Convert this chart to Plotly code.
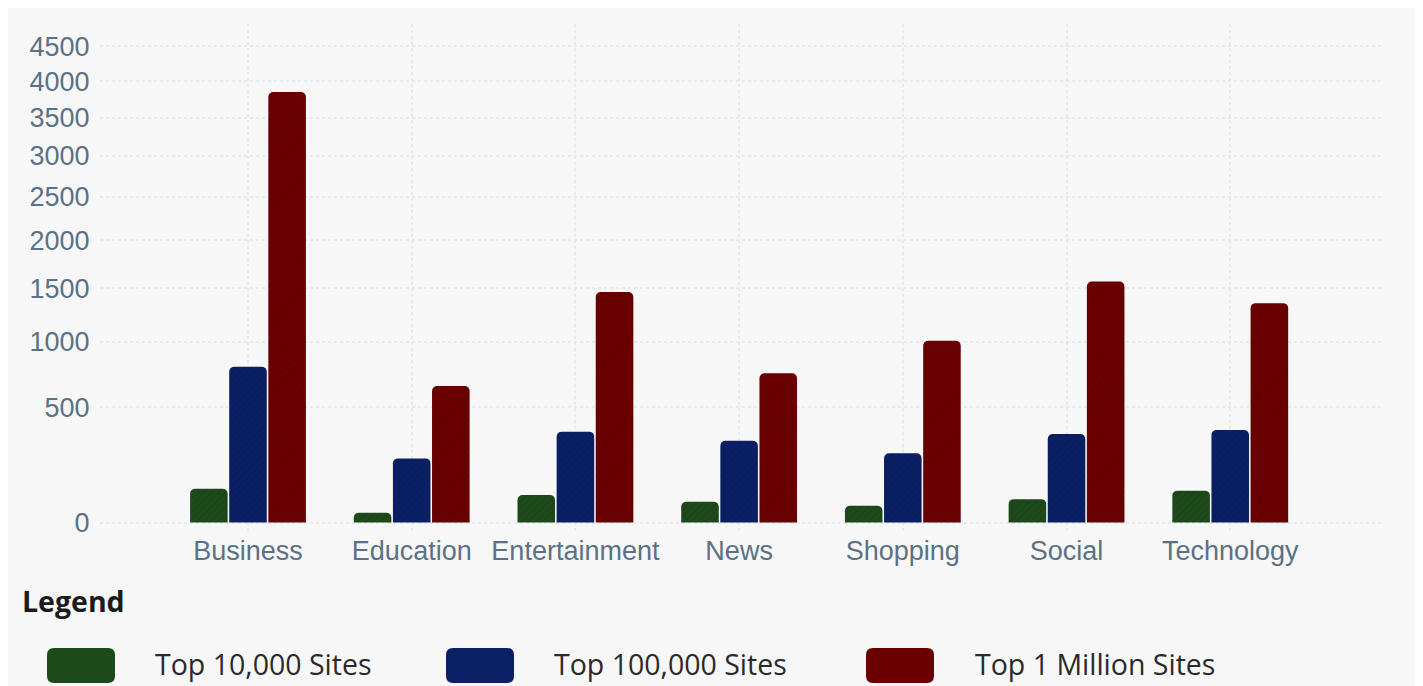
import plotly.graph_objects as go

categories = ["Business", "Education", "Entertainment", "News", "Shopping", "Social", "Technology"]
top_10k = [74, 11, 54, 35, 25, 42, 68]
top_100k = [796, 201, 345, 293, 226, 331, 355]
top_1m = [3849, 649, 1460, 744, 1011, 1565, 1353]
series_names = ["Top 10,000 Sites", "Top 100,000 Sites", "Top 1 Million Sites"]
series_colors = ["#1e4a1b", "#0b2064", "#6b0000"]
y_ticks = [0, 500, 1000, 1500, 2000, 2500, 3000, 3500, 4000, 4500]

# the reference uses a power-type (compressed) value scale
POW = 0.645


def tr(v):
    return v ** POW


OFF = 8  # page body margin
W, H = 1415, 678
L, R, T, B = 92, 41, 16, 154
PW, PH = W - L - R, H - T - B


def px(xp):
    return (xp - OFF - L) / PW


def py(yp):
    return (H - B - (yp - OFF)) / PH


fig = go.Figure()
for name, vals, col in zip(series_names, [top_10k, top_100k, top_1m], series_colors):
    fig.add_trace(go.Bar(
        x=categories, y=[tr(v) for v in vals], name=name,
        customdata=vals, hovertemplate="%{x}: %{customdata}<extra>" + name + "</extra>",
        marker=dict(color=col, line=dict(width=0),
                    pattern=dict(shape="/", size=5, solidity=0.25,
                                 fgcolor="rgba(0,0,0,0.22)", fillmode="overlay")),
    ))

shapes = [dict(type="rect", xref="paper", yref="paper", layer="below",
               x0=px(7), x1=px(1416), y0=py(700), y1=py(7),
               fillcolor="#f7f7f7", line=dict(width=0))]


def rounded(x0, y0, x1, y1, r):
    rx, ry = r / PW, r / PH
    a0, a1 = px(x0), px(x1)
    b0, b1 = py(y1), py(y0)  # bottom, top in paper
    return (f"M {a0+rx},{b0} L {a1-rx},{b0} Q {a1},{b0} {a1},{b0+ry} "
            f"L {a1},{b1-ry} Q {a1},{b1} {a1-rx},{b1} L {a0+rx},{b1} "
            f"Q {a0},{b1} {a0},{b1-ry} L {a0},{b0+ry} Q {a0},{b0} {a0+rx},{b0} Z")


swatch_x = [47, 446, 866]
text_x = [153, 552, 973]
annotations = [dict(xref="paper", yref="paper", x=px(20), y=py(601), xanchor="left", yanchor="middle",
                    text="<b>Legend</b>", showarrow=False,
                    font=dict(family="Open Sans", size=28.5, color="#1b1b1b"))]
for sx, tx, name, col in zip(swatch_x, text_x, series_names, series_colors):
    shapes.append(dict(type="path", xref="paper", yref="paper", path=rounded(sx, 648, sx + 68, 683, 7),
                       fillcolor=col, line=dict(width=0)))
    annotations.append(dict(xref="paper", yref="paper", x=px(tx), y=py(664), xanchor="left", yanchor="middle",
                            text=name, showarrow=False,
                            font=dict(family="Open Sans", size=28.5, color="#2a2a2a")))

fig.update_layout(
    width=W, height=H, margin=dict(l=L, r=R, t=T, b=B),
    paper_bgcolor="white", plot_bgcolor="rgba(0,0,0,0)",
    barmode="group", bargap=0.283, bargroupgap=0.04, barcornerradius=5,
    showlegend=False, shapes=shapes, annotations=annotations,
    font=dict(family="Liberation Sans", size=27, color="#5b7185"),
)
fig.update_xaxes(range=[-0.904, 6.927], showgrid=True, gridcolor="#e4ebf0", griddash="dot", gridwidth=2,
                 showline=False, zeroline=False, ticks="", ticklabelstandoff=0,
                 tickfont=dict(size=27, color="#5b7185"))
fig.update_yaxes(range=[-4.53, 237.8], tickvals=[tr(v) for v in y_ticks], ticktext=[str(v) for v in y_ticks],
                 showgrid=True, gridcolor="#e4ebf0", griddash="dot", gridwidth=2,
                 zeroline=False, showline=False, ticks="outside", ticklen=4, tickcolor="rgba(0,0,0,0)",
                 tickfont=dict(size=27, color="#5b7185"))

fig.write_html("out.html")
